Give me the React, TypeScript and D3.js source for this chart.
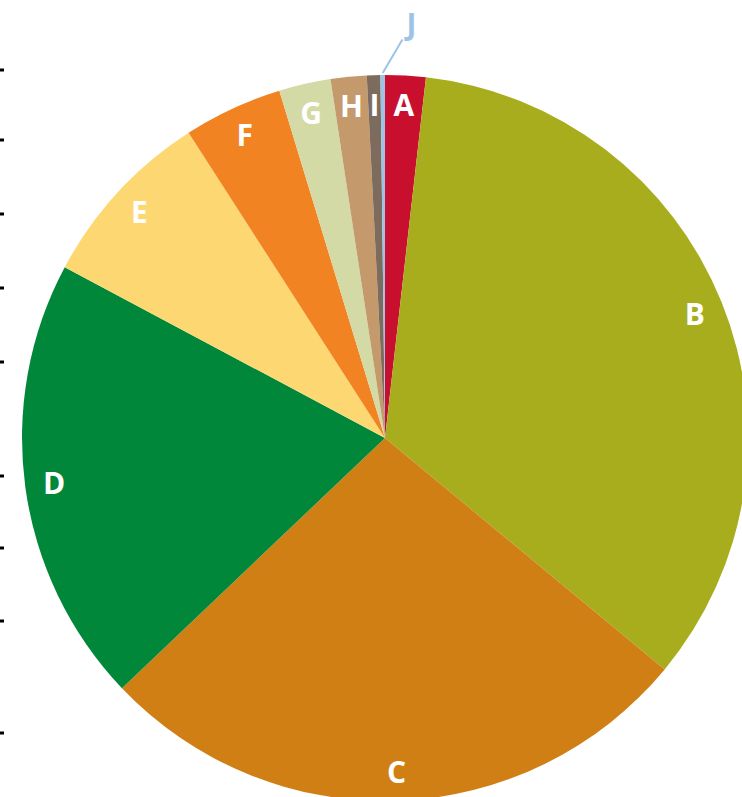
import React from "react";
import * as d3 from "d3";

const categories = ["A", "B", "C", "D", "E", "F", "G", "H", "I", "J"];
const values = [1.8, 34.2, 26.9, 19.9, 8.1, 4.4, 2.3, 1.6, 0.6, 0.2];
const colors = ["#C8102E", "#A8AD1E", "#D07F15", "#00873A", "#FDD872", "#F28322", "#D4DAA5", "#C49A6C", "#7D6B5E", "#9DC3E6"];
const tickYs = [70, 140, 214, 288, 362, 476, 548, 621, 733];

const W = 742;
const H = 797;
const cx = 385;
const cy = 438;
const R = 363;

export default function App() {
  const data = categories.map((c, i) => ({ c, v: values[i], color: colors[i] }));
  const pie = d3.pie<any>().value((d: any) => d.v).sort(null);
  const arcs = pie(data);
  const arc = d3.arc<any>().innerRadius(0).outerRadius(R);
  const labelArc = d3.arc<any>().innerRadius(R * 0.92).outerRadius(R * 0.92);
  const last = arcs[arcs.length - 1];
  const jMid = (last.startAngle + last.endAngle) / 2;
  const p1 = [Math.sin(jMid) * (R + 2), -Math.cos(jMid) * (R + 2)];
  const p2 = [Math.sin(jMid + 0.05) * (R + 36), -Math.cos(jMid + 0.05) * (R + 36)];
  const jPos = [Math.sin(jMid + 0.07) * (R + 52), -Math.cos(jMid + 0.07) * (R + 52)];
  return (
    <svg width={W} height={H} style={{ position: "absolute", left: 0, top: 0, background: "#fff" }}>
      {tickYs.map((y, i) => (
        <rect key={i} x={0} y={y - 1.5} width={4} height={3} fill="#000" />
      ))}
      <g transform={`translate(${cx},${cy})`}>
        {arcs.map((a, i) => (
          <path key={i} d={arc(a) as string} fill={a.data.color} />
        ))}
        {arcs.slice(0, arcs.length - 1).map((a, i) => {
          const [x, y] = labelArc.centroid(a);
          return (
            <text
              key={i}
              x={x}
              y={y}
              textAnchor="middle"
              dominantBaseline="central"
              fill="#fff"
              fontFamily="'Open Sans', sans-serif"
              fontWeight="bold"
              fontSize={30}
            >
              {a.data.c}
            </text>
          );
        })}
        <line x1={p1[0]} y1={p1[1]} x2={p2[0]} y2={p2[1]} stroke={colors[9]} strokeWidth={2} />
        <text
          x={jPos[0]}
          y={jPos[1]}
          textAnchor="middle"
          dominantBaseline="central"
          fill={colors[9]}
          fontFamily="'Open Sans', sans-serif"
          fontWeight="bold"
          fontSize={30}
        >
          J
        </text>
      </g>
    </svg>
  );
}
